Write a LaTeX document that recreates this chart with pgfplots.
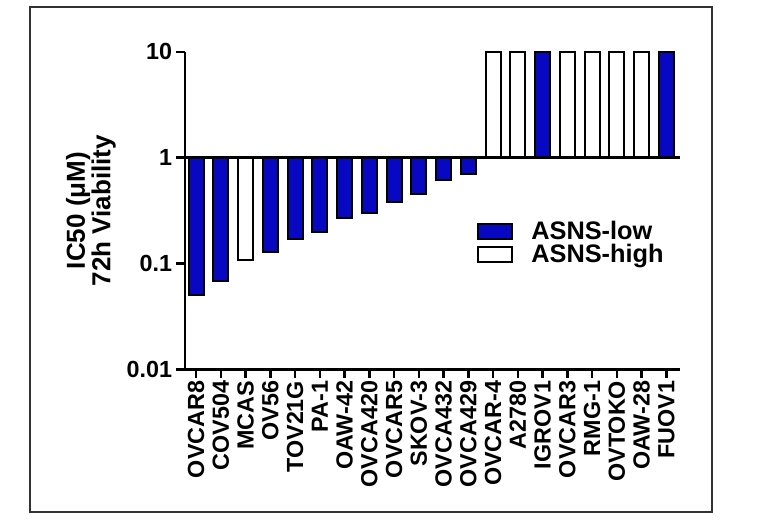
\documentclass[border=0pt]{standalone}
\usepackage{fontspec}
\setmainfont{Liberation Sans}
\usepackage{pgfplots}
\pgfplotsset{compat=1.18}
\definecolor{barblue}{RGB}{8,8,195}
\definecolor{framegray}{RGB}{50,50,50}
\begin{document}
\begin{tikzpicture}
\path[use as bounding box] (0pt,0pt) rectangle (569.25pt,390pt);
\draw[framegray, line width=1.5pt] (22.5pt,6.2pt) rectangle (533.8pt,385.1pt);
\begin{axis}[
  at={(138.75pt,113.0pt)}, anchor=south west,
  scale only axis, width=371.25pt, height=238.2pt,
  ymode=log, ymin=0.01, ymax=10,
  xmin=-0.45, xmax=19.55,
  axis x line=bottom, axis y line=left,
  axis line style={-, line width=2pt},
  clip=false,
  ybar, bar width=11.25pt,
  ytick={0.01,0.1,1,10}, yticklabels={0.01,0.1,1,10},
  minor ytick={}, yminorticks=false,
  xtick={0,...,19},
  xticklabels={OVCAR8,COV504,MCAS,OV56,TOV21G,PA-1,OAW-42,OVCA420,OVCAR5,SKOV-3,OVCA432,OVCA429,OVCAR-4,A2780,IGROV1,OVCAR3,RMG-1,OVTOKO,OAW-28,FUOV1},
  tick align=outside, major tick length=6.5pt,
  tick style={line width=1.8pt, black},
  /pgf/number format/assume math mode=true,
  yticklabel style={font=\fontsize{17.5}{20}\selectfont\bfseries, inner sep=1pt, xshift=-2pt},
  xticklabel style={font=\fontsize{17.5}{20}\selectfont\bfseries, rotate=90, anchor=east, inner sep=1pt, xshift=-1pt},
  ylabel={IC50 (μM)\\72h Viability},
  ylabel style={font=\fontsize{19.5}{17}\selectfont\bfseries, align=center, at={(axis description cs:-0.19,0.5)}, anchor=center},
  legend image code/.code={\draw[#1, line width=1.5pt] (0pt,-5.4pt) rectangle (25.5pt,5.4pt); \path (37pt,0pt);},
  legend style={at={(rel axis cs:0.59,0.475)}, anchor=north west, draw=none, fill=none,
    font=\fontsize{19}{20}\selectfont\bfseries, inner sep=0pt, row sep=-2pt},
  legend cell align=left,
]
\addplot[fill=barblue, draw=black, line width=1.5pt, bar shift=0pt] coordinates {
 (0,0.050) (1,0.069) (3,0.128) (4,0.170) (5,0.197) (6,0.271) (7,0.300) (8,0.378) (9,0.457) (10,0.615) (11,0.701) (14,10) (19,10)
};
\addlegendentry{ASNS-low}
\addplot[fill=white, draw=black, line width=1.5pt, bar shift=0pt] coordinates {
 (2,0.109) (12,10) (13,10) (15,10) (16,10) (17,10) (18,10)
};
\addlegendentry{ASNS-high}
\draw[line width=2pt] (axis cs:-0.45,1) -- (axis cs:19.55,1);
\end{axis}
\end{tikzpicture}
\end{document}
